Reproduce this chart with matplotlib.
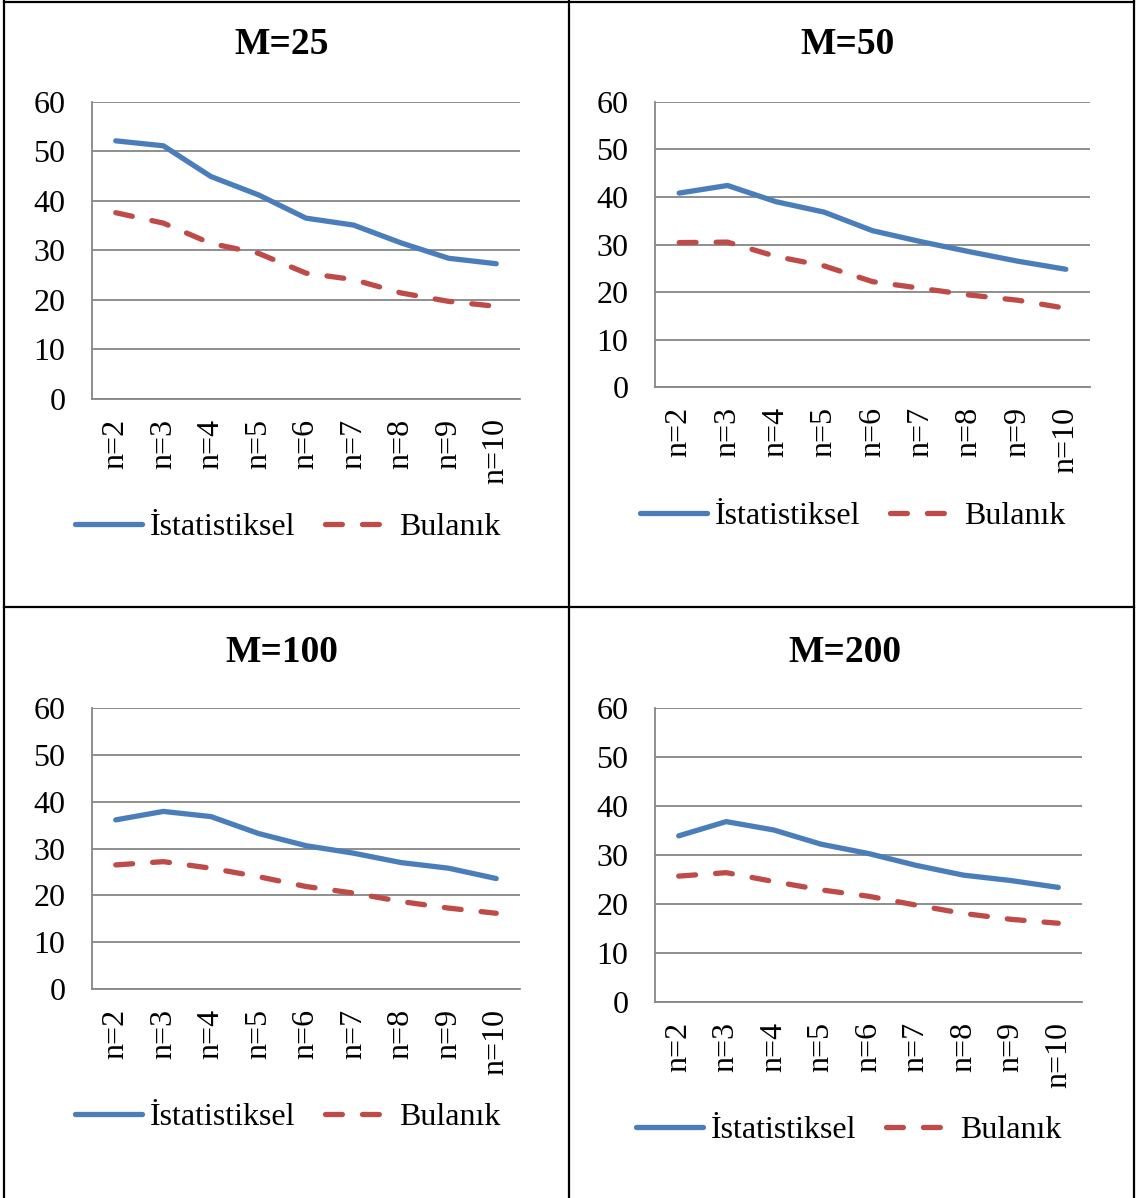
import matplotlib
matplotlib.use("Agg")
import matplotlib.pyplot as plt
from matplotlib.lines import Line2D

plt.rcParams['font.family'] = ['Liberation Serif', 'DejaVu Serif']

# data
categories = ['n=2', 'n=3', 'n=4', 'n=5', 'n=6', 'n=7', 'n=8', 'n=9', 'n=10']
titles = ['M=25', 'M=50', 'M=100', 'M=200']

ist_25 = [52.1, 51.1, 44.9, 41.2, 36.5, 35.1, 31.5, 28.4, 27.3]
bul_25 = [37.6, 35.5, 31.4, 29.4, 25.4, 24.1, 21.4, 19.7, 18.7]

ist_50 = [40.8, 42.4, 39.0, 36.8, 32.9, 30.6, 28.5, 26.5, 24.8]
bul_50 = [30.4, 30.5, 27.5, 25.5, 22.2, 20.8, 19.4, 18.3, 16.6]

ist_100 = [36.1, 37.9, 36.8, 33.2, 30.6, 29.0, 27.0, 25.8, 23.6]
bul_100 = [26.5, 27.2, 25.8, 24.0, 21.9, 20.5, 18.7, 17.3, 16.2]

ist_200 = [33.9, 36.8, 35.1, 32.2, 30.3, 27.9, 25.9, 24.8, 23.4]
bul_200 = [25.7, 26.4, 24.6, 22.9, 21.6, 19.8, 18.1, 16.9, 16.1]

series = [(ist_25, bul_25), (ist_50, bul_50), (ist_100, bul_100), (ist_200, bul_200)]

W, H = 1139, 1198
fig = plt.figure(figsize=(W / 100, H / 100), dpi=100)

# pixel boxes of the plot areas: left, right, top, bottom
boxes = [(92, 520, 101.7, 399), (655, 1090, 101.7, 387.3),
         (92, 520, 707.7, 989.3), (655, 1082, 707.7, 1002.3)]
title_pos = [(282, 45), (848, 45), (282, 652), (845, 652)]
legend_pos = [(288, 527), (853, 516), (288, 1117), (849, 1130)]

blue = '#4A7EBB'
red = '#BE4B48'
grid = '#868686'
fs = 23

for i in range(4):
    l, r, t, b = boxes[i]
    ax = fig.add_axes([l / W, 1 - b / H, (r - l) / W, (b - t) / H])
    ist, bul = series[i]
    x = range(len(categories))
    ax.plot(x, ist, color=blue, lw=3.8, solid_capstyle='round', label='İstatistiksel')
    ax.plot(x, bul, color=red, lw=3.8, dashes=(3.2, 3.8), dash_capstyle='round', label='Bulanık')
    ax.set_xlim(-0.5, len(categories) - 0.5)
    ax.set_ylim(0, 60)
    ax.set_yticks(range(0, 61, 10))
    ax.set_xticks(list(x))
    ax.set_xticklabels(categories, rotation=90, fontsize=fs)
    ax.tick_params(axis='y', length=0, pad=19, labelsize=fs)
    ax.tick_params(axis='x', length=0, pad=14)
    ax.grid(axis='y', color=grid, lw=1.3)
    ax.set_axisbelow(True)
    for s in ['top', 'right']:
        ax.spines[s].set_visible(False)
    for s in ['left', 'bottom']:
        ax.spines[s].set_color(grid)
        ax.spines[s].set_linewidth(1.3)

    tx, ty = title_pos[i]
    fig.text(tx / W, 1 - ty / H, titles[i], ha='center', va='center',
             fontsize=27, fontweight='bold')

    lx, ly = legend_pos[i]
    ax.legend(loc='center', bbox_to_anchor=(lx / W, 1 - ly / H),
              bbox_transform=fig.transFigure, ncol=2, frameon=False,
              fontsize=fs, handlelength=2.1, handletextpad=0.22,
              columnspacing=0.95)

# table borders
border = dict(color='black', lw=1.6)
fig.add_artist(Line2D([4 / W, 4 / W], [0, 1], **border))
fig.add_artist(Line2D([1134 / W, 1134 / W], [0, 1], **border))
fig.add_artist(Line2D([569 / W, 569 / W], [0, 1], **border))
fig.add_artist(Line2D([4 / W, 1134 / W], [1 - 2 / H, 1 - 2 / H], **border))
fig.add_artist(Line2D([4 / W, 1134 / W], [1 - 607 / H, 1 - 607 / H], **border))

fig.savefig('out.png', dpi=100)
